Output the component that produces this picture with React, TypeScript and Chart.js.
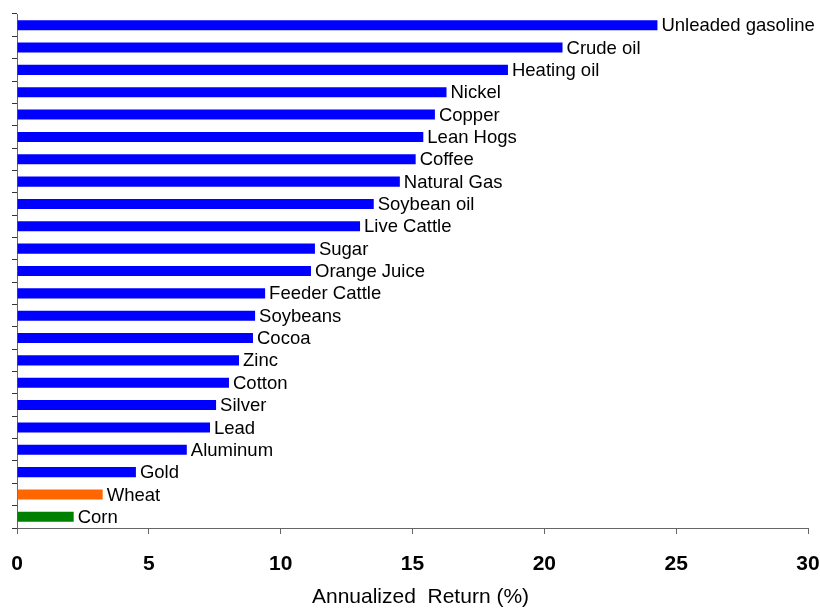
import React, { useEffect, useRef } from "react";
import { Chart, registerables } from "chart.js";

Chart.register(...registerables);

const categories = [
  "Unleaded gasoline", "Crude oil", "Heating oil", "Nickel", "Copper", "Lean Hogs",
  "Coffee", "Natural Gas", "Soybean oil", "Live Cattle", "Sugar", "Orange Juice",
  "Feeder Cattle", "Soybeans", "Cocoa", "Zinc", "Cotton", "Silver", "Lead",
  "Aluminum", "Gold", "Wheat", "Corn",
];

const returns = [
  24.29, 20.69, 18.62, 16.29, 15.85, 15.41,
  15.12, 14.52, 13.53, 13.01, 11.3, 11.15,
  9.41, 9.03, 8.95, 8.42, 8.04, 7.55, 7.32,
  6.44, 4.51, 3.25, 2.15,
];

const barColors = [
  ...Array(21).fill("#0000FF"),
  "#FF6600",
  "#008000",
];

const xTicks = [0, 5, 10, 15, 20, 25, 30];
const xTitle = "Annualized  Return (%)";
const FONT = "Arial, 'Liberation Sans', sans-serif";

const labelPlugin = {
  id: "barLabels",
  afterDatasetsDraw(chart: any) {
    const ctx = chart.ctx;
    const meta = chart.getDatasetMeta(0);
    ctx.save();
    ctx.fillStyle = "#000";
    ctx.font = `18.5px ${FONT}`;
    ctx.textAlign = "left";
    ctx.textBaseline = "middle";
    meta.data.forEach((bar: any, i: number) => {
      ctx.fillText(categories[i], bar.x + 4, bar.y + 1);
    });
    const ca = chart.chartArea;
    ctx.font = `21px ${FONT}`;
    ctx.textAlign = "center";
    ctx.textBaseline = "alphabetic";
    ctx.fillText(xTitle, (ca.left + ca.right) / 2 + 8, 603);
    ctx.restore();
  },
};

export default function App() {
  const ref = useRef<HTMLCanvasElement>(null);
  useEffect(() => {
    if (!ref.current) return;
    const chart = new Chart(ref.current, {
      type: "bar",
      data: {
        labels: categories,
        datasets: [
          {
            data: returns,
            backgroundColor: barColors,
            borderWidth: 0,
            barPercentage: 0.45,
            categoryPercentage: 1,
          },
        ],
      },
      options: {
        indexAxis: "y",
        animation: false,
        responsive: true,
        maintainAspectRatio: false,
        layout: { padding: { top: 14, right: 12, bottom: 0, left: 0 } },
        plugins: { legend: { display: false }, tooltip: { enabled: false } },
        scales: {
          x: {
            type: "linear",
            min: 0,
            max: 30,
            afterBuildTicks: (scale: any) => {
              scale.ticks = xTicks.map((v) => ({ value: v }));
            },
            afterFit: (scale: any) => {
              scale.height = 80;
              scale.paddingLeft = 0;
              scale.paddingRight = 0;
            },
            ticks: {
              color: "#000",
              font: { family: FONT, size: 21, weight: "bold" },
              padding: 18,
            },
            grid: {
              drawOnChartArea: false,
              drawTicks: true,
              tickLength: 6,
              color: "#666",
            },
            border: { display: true, color: "#666", width: 1 },
          },
          y: {
            type: "category",
            afterFit: (scale: any) => {
              scale.width = 17;
              scale.paddingTop = 0;
              scale.paddingBottom = 0;
            },
            ticks: { display: false },
            grid: {
              offset: true,
              drawOnChartArea: false,
              drawTicks: true,
              tickLength: 5,
              color: "#333",
            },
            border: { display: true, color: "#666", width: 1 },
          },
        },
      },
      plugins: [labelPlugin],
    });
    return () => chart.destroy();
  }, []);
  return (
    <div style={{ position: "fixed", left: 0, top: 0, width: 820, height: 608, background: "#fff" }}>
      <canvas ref={ref} />
    </div>
  );
}
